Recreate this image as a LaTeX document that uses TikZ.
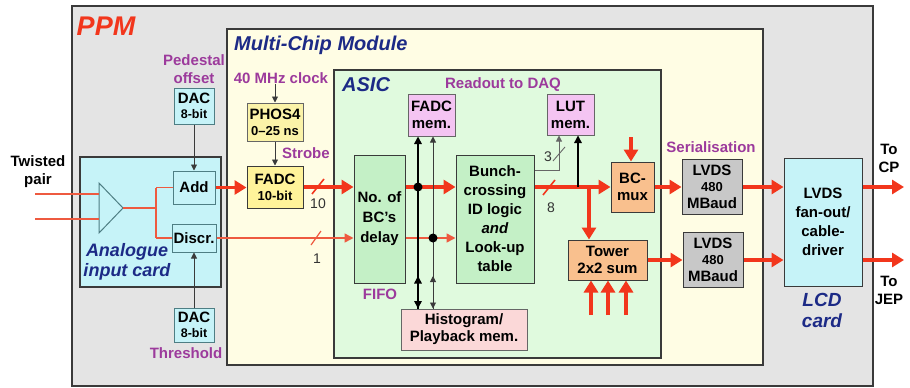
\documentclass[tikz,border=0pt]{standalone}
\usepackage{fontspec}
\setmainfont{Liberation Sans}
\usetikzlibrary{arrows.meta}
\definecolor{ppmgray}{HTML}{E4E4E4}
\definecolor{mcmyel}{HTML}{FFFDE4}
\definecolor{asicgrn}{HTML}{E0FADE}
\definecolor{cyanbox}{HTML}{C6F3F8}
\definecolor{phosyel}{HTML}{FBF3A8}
\definecolor{fadcyel}{HTML}{FFF39A}
\definecolor{grnbox}{HTML}{C4F0C6}
\definecolor{pinkbox}{HTML}{F4C4F2}
\definecolor{histpink}{HTML}{FBD8D8}
\definecolor{orangebox}{HTML}{F9C08E}
\definecolor{lvdsgray}{HTML}{C8C8C8}
\definecolor{sigred}{HTML}{F2361C}
\definecolor{thinred}{HTML}{EE5A40}
\definecolor{purp}{HTML}{9C3A9C}
\definecolor{dblue}{HTML}{1C2A86}
\definecolor{edge}{HTML}{3A3A3A}
\definecolor{tealedge}{HTML}{4E7E84}
\begin{document}
\begin{tikzpicture}[x=1pt,y=-1pt,
  wh/.style 2 args={minimum width=#1pt, minimum height=#2pt},
  blk/.style={rectangle, draw=edge, line width=1pt, inner sep=0pt, align=center,
    font=\bfseries\fontsize{15}{17}\selectfont, text=black},
  container/.style={rectangle, draw=edge, line width=1.5pt, inner sep=0pt},
  lbl/.style={inner sep=0pt, align=center, font=\bfseries\fontsize{15}{18}\selectfont},
  purplbl/.style={lbl, text=purp},
  bluelbl/.style={inner sep=0pt, align=center, text=dblue, font=\bfseries\itshape\fontsize{19}{21}\selectfont},
  numlbl/.style={inner sep=0pt, font=\fontsize{14}{16}\selectfont, text=black!80},
  redthick/.style={draw=sigred, line width=3.6pt, -{Triangle[length=12pt,width=14pt]}},
  redthin/.style={draw=thinred, line width=1.5pt, -{Triangle[length=9pt,width=9pt]}},
  redwire/.style={draw=thinred, line width=1.5pt},
  blkarrow/.style={draw=edge, line width=0.9pt, -{Triangle[length=6pt,width=6pt]}},
  blkthick/.style={draw=black, line width=1.6pt, -{Triangle[length=7.5pt,width=7.5pt]}},
  grayarrow/.style={draw=black!60, line width=0.9pt, -{Triangle[length=6pt,width=6pt]}},
  dot/.style={circle, fill=black, inner sep=0pt, minimum size=9pt}
]
\useasboundingbox (0,0) rectangle (910,388);
\fill[white] (0,0) rectangle (910,388);

% containers
\node[container, fill=ppmgray, wh={801}{380}] (ppm) at (472.5,196) {};
\node[container, fill=mcmyel, wh={536}{336}] (mcm) at (495,197) {};
\node[container, fill=asicgrn, line width=1.2pt, wh={327}{288}] (asic) at (497.5,214) {};
\node[container, fill=cyanbox, wh={141}{130}] (aic) at (150.5,222) {};

% container titles
\node[inner sep=0pt, text=sigred, font=\bfseries\itshape\fontsize{27}{29}\selectfont] (ppmt) at (106,26) {PPM};
\node[inner sep=0pt, anchor=west, text=dblue, font=\bfseries\itshape\fontsize{20}{22}\selectfont] (mcmt) at (234,45) {Multi-Chip Module};
\node[inner sep=0pt, anchor=west, text=dblue, font=\bfseries\itshape\fontsize{20}{22}\selectfont] (asict) at (342,85) {ASIC};
\node[bluelbl, font=\bfseries\itshape\fontsize{18}{20}\selectfont] (aict) at (127,262) {Analogue\\input card};
\node[bluelbl] (lcdt) at (822,310) {LCD\\card};

% amplifier
\coordinate (amptop) at (99,183);
\coordinate (ampbot) at (99,233);
\coordinate (amptip) at (123,208);
\draw[draw=tealedge, line width=1pt] (amptop) -- (amptip) -- (ampbot) -- cycle;

% boxes
\node[blk, fill=cyanbox, draw=tealedge, wh={40}{36}] (dac1) at (194,106) {DAC\\[-2pt]\fontsize{12.5}{14}\selectfont 8-bit};
\node[blk, fill=cyanbox, draw=tealedge, wh={40}{34}] (dac2) at (194,325) {DAC\\[-2pt]\fontsize{12.5}{14}\selectfont 8-bit};
\node[blk, fill=cyanbox, draw=tealedge, wh={42}{33}] (add) at (194,187.5) {Add};
\node[blk, fill=cyanbox, draw=tealedge, wh={44}{28}] (discr) at (194,238) {Discr.};
\node[blk, fill=phosyel, draw=black!60, wh={56}{38}] (phos) at (275,122) {PHOS4\\[-1pt]\fontsize{13}{15}\selectfont 0–25 ns};
\node[blk, fill=fadcyel, wh={56}{42}] (fadc) at (275,187) {FADC\\[-1pt]\fontsize{13}{15}\selectfont 10-bit};
\node[blk, fill=grnbox, font=\bfseries\fontsize{15}{20}\selectfont, wh={51}{128}] (delay) at (379.5,219) {No. of\\BC’s\\delay};
\node[blk, fill=pinkbox, draw=black!60, wh={47}{42}] (fmem) at (431.5,115) {FADC\\mem.};
\node[blk, fill=pinkbox, draw=black!60, wh={47}{41}] (lmem) at (570.5,114.5) {LUT\\mem.};
\node[blk, fill=grnbox, font=\bfseries\fontsize{15}{19}\selectfont, wh={78}{128}] (bcid) at (495,219) {Bunch-\\crossing\\ID logic\\\textit{and}\\Look-up\\table};
\node[blk, fill=orangebox, wh={43}{50}] (bcmux) at (632.5,187) {BC-\\mux};
\node[blk, fill=orangebox, wh={79}{40}] (tower) at (607.5,260) {Tower\\2x2 sum};
\node[blk, fill=lvdsgray, wh={60}{55}] (lvds1) at (712,187) {LVDS\\[-1pt]\fontsize{13}{15}\selectfont 480\\MBaud};
\node[blk, fill=lvdsgray, wh={60}{55}] (lvds2) at (713,260) {LVDS\\[-1pt]\fontsize{13}{15}\selectfont 480\\MBaud};
\node[blk, fill=cyanbox, font=\bfseries\fontsize{15}{19}\selectfont, wh={78}{128}] (fan) at (823,222) {LVDS\\fan-out/\\cable-\\driver};
\node[blk, fill=histpink, draw=black!60, wh={126}{41}] (hist) at (464,329.5) {Histogram/\\Playback mem.};

% labels
\node[lbl] (tp) at (38,172) {Twisted\\pair};
\node[purplbl] (ped) at (194,69) {Pedestal\\offset};
\node[purplbl] (thr) at (186,353) {Threshold};
\node[purplbl] (clk) at (281,78) {40 MHz clock};
\node[purplbl, anchor=west] (strobe) at (282,153) {Strobe};
\node[purplbl] (fifo) at (380,294) {FIFO};
\node[purplbl] (rdaq) at (503,85) {Readout to DAQ};
\node[purplbl] (ser) at (711,147) {Serialisation};
\node[lbl] (tocp) at (889,158) {To\\CP};
\node[lbl] (tojep) at (889,290) {To\\JEP};

% analogue input wiring
\coordinate (in1) at (35,194);
\coordinate (in2) at (35,219);
\coordinate (split) at (156,208);
\draw[redwire] (in1) -- (in1 -| amptop);
\draw[redwire] (in2) -- (in2 -| amptop);
\draw[redwire] (amptip) -- (split);
\draw[redwire] (split |- add.west) -- (split |- discr.west);
\draw[redwire] (split |- add.west) -- (add.west);
\draw[redwire] (split |- discr.west) -- (discr.west);

% DAC arrows
\draw[blkarrow] (dac1.south) -- (add.north);
\draw[blkarrow] (dac2.north) -- (discr.south);

% clock
\draw[blkarrow] (clk.south -| phos.north) -- (phos.north);
\draw[blkarrow] (phos.south) -- (fadc.north);

% main data path
\draw[redthick] (add.east) -- (fadc.west |- add.east);
\draw[redthick] (fadc.east) -- (delay.west |- fadc.east);
\draw[redthick] (delay.east |- fadc.east) -- (bcid.west |- fadc.east);
\draw[redthick] (bcid.east |- fadc.east) -- (bcmux.west);
\draw[redthin] (discr.east) -- (delay.west |- discr.east);
\draw[redthin] (delay.east |- discr.east) -- (bcid.west |- discr.east);

% bus slashes and widths
\draw[draw=sigred, line width=1.6pt] (312,194) -- (324,179);
\node[numlbl] (n10) at (318,204) {10};
\draw[draw=thinred, line width=1.2pt] (311,245) -- (321,231);
\node[numlbl] (n1) at (317,259) {1};
\draw[draw=sigred, line width=1.6pt] (543,195) -- (555,180);
\node[numlbl] (n8) at (551,208) {8};

% junction dots and readout lines
\draw[blkthick] (418,187) -- (418,187 |- fmem.south);
\draw[blkarrow] (433,238) -- (433,238 |- fmem.south);
\draw[blkthick] (418,187) -- (418,187 |- hist.north);
\draw[blkarrow] (433,238) -- (433,238 |- hist.north);
\coordinate (u1) at (418,276);
\coordinate (u2) at (433,276);
\draw[blkthick] (u1 |- hist.north) -- (u1);
\draw[blkarrow] (u2 |- hist.north) -- (u2);
\node[dot] (d1) at (418,187) {};
\node[dot] (d2) at (433,238) {};

% LUT memory lines
\coordinate (j4) at (578,187);
\draw[blkthick, line width=1.3pt] (j4) -- (j4 |- lmem.south);
\coordinate (g1) at (559,170);
\draw[grayarrow] (bcid.east |- g1) -- (g1) -- (g1 |- lmem.south);
\draw[draw=black!60, line width=0.9pt] (553,161) -- (565,147);
\node[numlbl] (n3) at (548,157) {3};

% tower and bc-mux
\coordinate (j3) at (589,187);
\draw[redthick] (j3) -- (j3 |- tower.north);
\coordinate (bmin) at (631,137);
\draw[redthick] (bmin) -- (bmin |- bcmux.north);
\coordinate (ti1) at (591,315);
\coordinate (ti2) at (608,315);
\coordinate (ti3) at (626,315);
\draw[redthick] (ti1) -- (ti1 |- tower.south);
\draw[redthick] (ti2) -- (ti2 |- tower.south);
\draw[redthick] (ti3) -- (ti3 |- tower.south);

% serialisation and outputs
\draw[redthick] (bcmux.east) -- (lvds1.west);
\draw[redthick] (tower.east) -- (lvds2.west);
\draw[redthick] (lvds1.east) -- (fan.west |- lvds1.east);
\draw[redthick] (lvds2.east) -- (fan.west |- lvds2.east);
\coordinate (outcp) at (904,187);
\coordinate (outjep) at (904,260);
\draw[redthick] (fan.east |- outcp) -- (outcp);
\draw[redthick] (fan.east |- outjep) -- (outjep);
\end{tikzpicture}
\end{document}
